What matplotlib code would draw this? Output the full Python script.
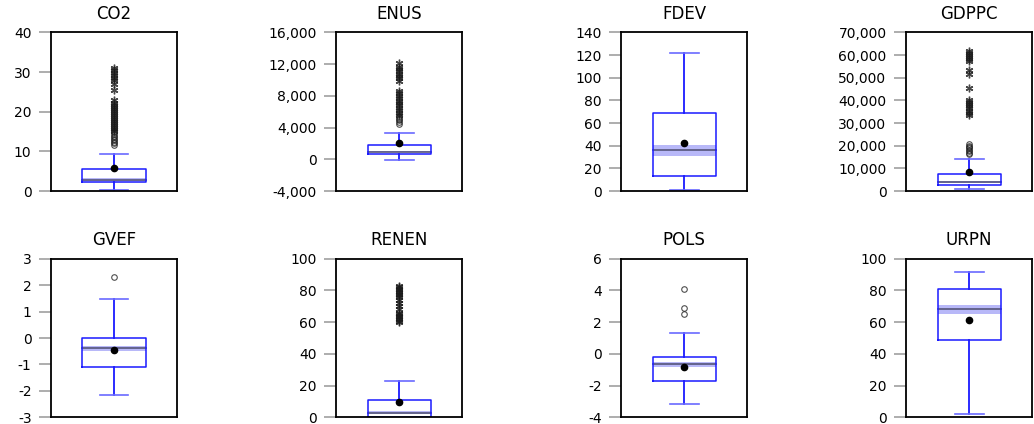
import matplotlib.pyplot as plt
from matplotlib.ticker import StrMethodFormatter

# box statistics
names   = ["CO2", "ENUS", "FDEV", "GDPPC", "GVEF", "RENEN", "POLS", "URPN"]
q1      = [2.3, 715, 13.6, 2500, -1.09, 0.3, -1.68, 48.6]
med     = [2.9, 925, 36.0, 3980, -0.39, 2.9, -0.65, 68.2]
q3      = [5.45, 1850, 68.7, 7660, -0.01, 10.7, -0.17, 80.6]
band_lo = [2.5, 860, 30.6, 3500, -0.49, 2.1, -0.80, 65.3]
band_hi = [3.3, 990, 40.4, 4400, -0.30, 3.8, -0.50, 70.7]
wlo     = [0.15, -85, 0.9, 740, -2.14, 0.0, -3.17, 2.1]
whi     = [9.4, 3280, 121.7, 14000, 1.48, 22.9, 1.34, 91.6]
means   = [5.7, 2100, 42.1, 8550, -0.45, 9.9, -0.82, 61.5]

near_out = [
    [11.5, 12.0, 12.4, 12.8, 13.2, 13.6, 14.0, 14.4, 14.8],
    [4500, 4700, 4900, 5100, 5300],
    [],
    [16300, 17000, 17600, 18200, 18800, 19400, 20000, 20600],
    [2.31],
    [],
    [4.09, 2.87, 2.49],
    [],
]
far_out = [
    [15.2, 15.7, 16.2, 16.7, 17.2, 17.7, 18.2, 18.7, 19.2, 19.7, 20.2, 20.7,
     21.2, 21.7, 22.2, 23.0, 25.5, 27.0, 28.0, 28.6, 29.2, 29.8, 30.4, 31.0],
    [5600, 5900, 6200, 6500, 6800, 7100, 7400, 7700, 8000, 8300, 8600,
     9900, 10200, 10500, 10800, 11100, 11400, 11700, 12100],
    [],
    [33500, 34500, 35500, 36500, 37500, 38500, 39500, 40200, 45300, 51500,
     53600, 57500, 58300, 59000, 60000, 61000, 62000],
    [],
    [60, 61, 62, 63, 64, 65, 66, 68, 70, 72, 74, 76, 77, 78, 79, 80, 81, 82, 83],
    [],
    [],
]

ylims  = [(0, 40), (-4000, 16000), (0, 140), (0, 70000),
          (-3, 3), (0, 100), (-4, 6), (0, 100)]
ysteps = [10, 4000, 20, 10000, 1, 20, 2, 20]
commas = [False, True, False, True, False, False, False, False]

plt.rcParams['font.family'] = ['DejaVu Sans']
plt.rcParams['axes.unicode_minus'] = False

fig = plt.figure(figsize=(10.34, 4.24), dpi=100)

lefts = [0.0493, 0.3250, 0.6006, 0.8762]
bottoms = [0.5495, 0.0158]
w, h = 0.1219, 0.374

blue = "#1a1aff"
for i in range(8):
    ax = fig.add_axes([lefts[i % 4], bottoms[i // 4], w, h])
    x0, x1 = 0.25, 0.75
    c0, c1 = 0.385, 0.615
    # median band and line
    ax.fill_between([x0, x1], band_lo[i], band_hi[i], color="#b8b8f8", lw=0)
    ax.plot([x0, x1], [med[i], med[i]], color="#55557a", lw=1.2)
    # box
    ax.plot([x0, x1, x1, x0, x0], [q1[i], q1[i], q3[i], q3[i], q1[i]],
            color=blue, lw=1.1)
    # whiskers
    ax.plot([0.5, 0.5], [q3[i], whi[i]], color=blue, lw=1.3)
    ax.plot([0.5, 0.5], [q1[i], wlo[i]], color=blue, lw=1.3)
    ax.plot([c0, c1], [whi[i], whi[i]], color="#6a6aff", lw=1.2)
    ax.plot([c0, c1], [wlo[i], wlo[i]], color="#6a6aff", lw=1.2)
    # mean
    ax.plot([0.5], [means[i]], "o", color="black", ms=4.5)
    # outliers
    if near_out[i]:
        ax.plot([0.5] * len(near_out[i]), near_out[i], "o", mfc="none",
                mec="#222222", ms=4, mew=0.8, alpha=0.8)
    if far_out[i]:
        ax.plot([0.5] * len(far_out[i]), far_out[i], marker=(6, 2, 0),
                ls="none", color="#1a1a1a", ms=5.5, mew=1.0, alpha=0.8)

    lo, hi = ylims[i]
    ax.set_xlim(0, 1)
    ax.set_ylim(lo, hi)
    ticks = []
    t = lo
    while t <= hi:
        ticks.append(t)
        t += ysteps[i]
    ax.set_yticks(ticks)
    if commas[i]:
        ax.yaxis.set_major_formatter(StrMethodFormatter("{x:,.0f}"))
    else:
        ax.yaxis.set_major_formatter(StrMethodFormatter("{x:.0f}"))
    ax.set_xticks([])
    ax.tick_params(axis="y", length=9, width=1.2, color="#a0a0a0",
                   labelsize=10, pad=5)
    for s in ax.spines.values():
        s.set_linewidth(1.3)
        s.set_color("black")
    ax.set_title(names[i], fontsize=12, pad=10)

plt.savefig("out.png", dpi=100)
